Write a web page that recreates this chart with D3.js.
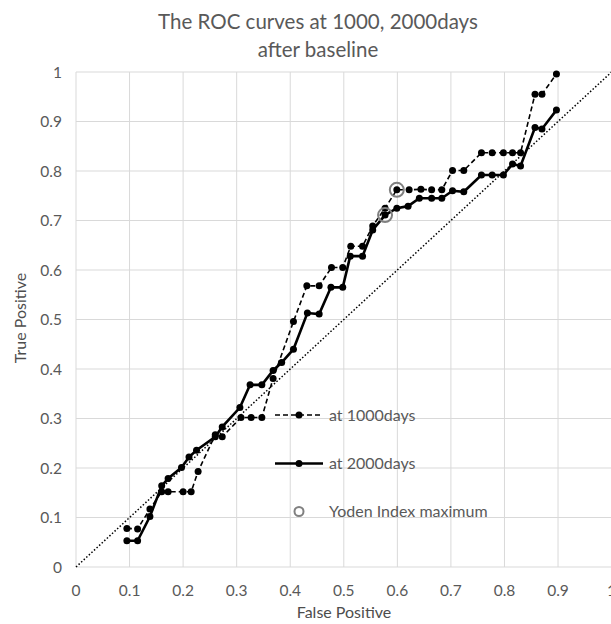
<!DOCTYPE html>
<html>
<head>
<meta charset="utf-8">
<script src="https://cdn.jsdelivr.net/npm/d3@7"></script>
<style>
  body { margin: 0; background: #fff; }
  svg { display: block; font-family: Lato, "Open Sans", sans-serif; }
</style>
</head>
<body>
<div id="chart"></div>
<script>
// false positive / true positive pairs
const fp1000 = [0.095, 0.115, 0.138, 0.160, 0.172, 0.200, 0.215, 0.228, 0.260, 0.273, 0.308, 0.327, 0.347, 0.368, 0.406, 0.431, 0.454, 0.477, 0.498, 0.513, 0.535, 0.554, 0.577, 0.599, 0.622, 0.644, 0.664, 0.683, 0.703, 0.724, 0.757, 0.777, 0.798, 0.815, 0.830, 0.857, 0.870, 0.897];
const tp1000 = [0.078, 0.077, 0.117, 0.152, 0.152, 0.152, 0.152, 0.193, 0.267, 0.263, 0.302, 0.302, 0.302, 0.381, 0.496, 0.568, 0.568, 0.605, 0.605, 0.648, 0.648, 0.689, 0.725, 0.762, 0.762, 0.763, 0.762, 0.762, 0.801, 0.801, 0.837, 0.837, 0.837, 0.837, 0.837, 0.955, 0.955, 0.996];

const fp2000 = [0.095, 0.115, 0.138, 0.160, 0.172, 0.197, 0.211, 0.225, 0.260, 0.273, 0.306, 0.325, 0.347, 0.368, 0.384, 0.406, 0.432, 0.454, 0.476, 0.498, 0.512, 0.535, 0.554, 0.577, 0.599, 0.620, 0.641, 0.664, 0.683, 0.703, 0.724, 0.757, 0.777, 0.798, 0.815, 0.830, 0.857, 0.870, 0.897];
const tp2000 = [0.053, 0.053, 0.102, 0.164, 0.179, 0.201, 0.222, 0.236, 0.263, 0.283, 0.322, 0.368, 0.368, 0.397, 0.413, 0.440, 0.513, 0.511, 0.565, 0.565, 0.628, 0.628, 0.681, 0.711, 0.725, 0.729, 0.745, 0.745, 0.745, 0.760, 0.758, 0.792, 0.792, 0.792, 0.814, 0.810, 0.888, 0.885, 0.923];

// Youden index maximum of each curve
const youdenFp = [0.599, 0.577];
const youdenTp = [0.762, 0.711];

const ticks = [0, 0.1, 0.2, 0.3, 0.4, 0.5, 0.6, 0.7, 0.8, 0.9, 1];
const legendLabels = ["at 1000days", "at 2000days", "Yoden Index maximum"];

const width = 611;
const height = 624;
const grey = "#595959";
const black = "#000";

const svg = d3.select("#chart")
    .append("svg")
    .attr("width", width)
    .attr("height", height);

const x = d3.scaleLinear().domain([0, 1]).range([76, 611.6]);
const y = d3.scaleLinear().domain([0, 1]).range([567, 72]);

// gridlines
svg.selectAll(".vgrid")
    .data(ticks)
    .join("line")
        .attr("class", "vgrid")
        .attr("x1", d => x(d)).attr("x2", d => x(d))
        .attr("y1", y(0)).attr("y2", y(1))
        .attr("stroke", "#d9d9d9")
        .attr("stroke-width", 1);

svg.selectAll(".hgrid")
    .data(ticks)
    .join("line")
        .attr("class", "hgrid")
        .attr("x1", x(0)).attr("x2", x(1))
        .attr("y1", d => y(d)).attr("y2", d => y(d))
        .attr("stroke", "#d9d9d9")
        .attr("stroke-width", 1);

// tick labels
svg.selectAll(".xlab")
    .data(ticks)
    .join("text")
        .attr("class", "xlab")
        .attr("x", d => x(d))
        .attr("y", 596)
        .attr("text-anchor", "middle")
        .attr("fill", grey)
        .style("font-size", "15.5px")
        .text(d => d3.format("~g")(d));

svg.selectAll(".ylab")
    .data(ticks)
    .join("text")
        .attr("class", "ylab")
        .attr("x", 62)
        .attr("y", d => y(d) + 5.5)
        .attr("text-anchor", "end")
        .attr("fill", grey)
        .style("font-size", "15.5px")
        .text(d => d3.format("~g")(d));

// axis titles
svg.append("text")
    .attr("x", 344)
    .attr("y", 618)
    .attr("text-anchor", "middle")
    .attr("fill", "#4d4d4d")
    .style("font-size", "16px")
    .text("False Positive");

svg.append("text")
    .attr("transform", "translate(26,318) rotate(-90)")
    .attr("text-anchor", "middle")
    .attr("fill", "#4d4d4d")
    .style("font-size", "16px")
    .text("True Positive");

// title
svg.append("text")
    .attr("x", 318)
    .attr("y", 29)
    .attr("text-anchor", "middle")
    .attr("fill", grey)
    .style("font-size", "20.5px")
    .text("The ROC curves at 1000, 2000days");

svg.append("text")
    .attr("x", 318)
    .attr("y", 57)
    .attr("text-anchor", "middle")
    .attr("fill", grey)
    .style("font-size", "20.5px")
    .text("after baseline");

// reference diagonal
svg.append("line")
    .attr("x1", x(0)).attr("y1", y(0))
    .attr("x2", x(1)).attr("y2", y(1))
    .attr("stroke", black)
    .attr("stroke-width", 1.5)
    .attr("stroke-dasharray", "1.5,2");

const line = d3.line()
    .x(d => x(d[0]))
    .y(d => y(d[1]));

const data1000 = fp1000.map((d, i) => [d, tp1000[i]]);
const data2000 = fp2000.map((d, i) => [d, tp2000[i]]);

svg.append("path")
    .datum(data1000)
    .attr("d", line)
    .attr("fill", "none")
    .attr("stroke", black)
    .attr("stroke-width", 1.6)
    .attr("stroke-dasharray", "5,3");

svg.append("path")
    .datum(data2000)
    .attr("d", line)
    .attr("fill", "none")
    .attr("stroke", black)
    .attr("stroke-width", 2.6);

svg.selectAll(".dot1000")
    .data(data1000)
    .join("circle")
        .attr("class", "dot1000")
        .attr("cx", d => x(d[0]))
        .attr("cy", d => y(d[1]))
        .attr("r", 3.5)
        .attr("fill", black);

svg.selectAll(".dot2000")
    .data(data2000)
    .join("circle")
        .attr("class", "dot2000")
        .attr("cx", d => x(d[0]))
        .attr("cy", d => y(d[1]))
        .attr("r", 3.5)
        .attr("fill", black);

svg.selectAll(".youden")
    .data(youdenFp.map((d, i) => [d, youdenTp[i]]))
    .join("circle")
        .attr("class", "youden")
        .attr("cx", d => x(d[0]))
        .attr("cy", d => y(d[1]))
        .attr("r", 7)
        .attr("fill", "none")
        .attr("stroke", "#808080")
        .attr("stroke-width", 2);

// legend
const legendY = [415, 463.5, 511.5];
const lg = svg.append("g");

lg.append("line")
    .attr("x1", 275).attr("x2", 323)
    .attr("y1", legendY[0]).attr("y2", legendY[0])
    .attr("stroke", black)
    .attr("stroke-width", 1.6)
    .attr("stroke-dasharray", "5,3");
lg.append("circle")
    .attr("cx", 299).attr("cy", legendY[0]).attr("r", 3.5).attr("fill", black);

lg.append("line")
    .attr("x1", 275).attr("x2", 323)
    .attr("y1", legendY[1]).attr("y2", legendY[1])
    .attr("stroke", black)
    .attr("stroke-width", 2.6);
lg.append("circle")
    .attr("cx", 299).attr("cy", legendY[1]).attr("r", 3.5).attr("fill", black);

lg.append("circle")
    .attr("cx", 299).attr("cy", legendY[2]).attr("r", 4.5)
    .attr("fill", "none")
    .attr("stroke", "#808080")
    .attr("stroke-width", 2);

lg.selectAll(".legend-text")
    .data(legendLabels)
    .join("text")
        .attr("class", "legend-text")
        .attr("x", 329)
        .attr("y", (d, i) => legendY[i] + 5.5)
        .attr("fill", grey)
        .style("font-size", "16px")
        .text(d => d);
</script>
</body>
</html>
